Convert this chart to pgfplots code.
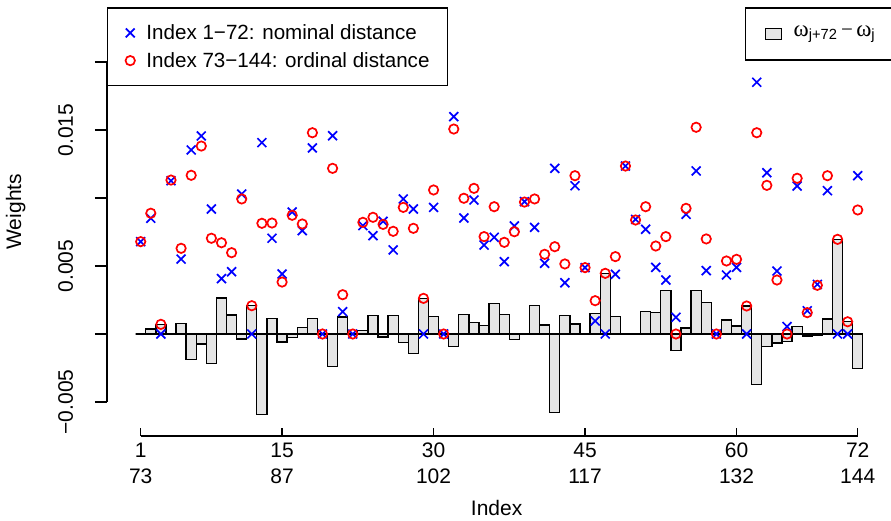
\documentclass[border=0pt]{standalone}
\usepackage{fontspec}
\setmainfont{Liberation Sans}
\newfontfamily\serifgr{Liberation Serif}
\usepackage{pgfplots}
\usepackage{pgfplotstable}
\pgfplotsset{compat=1.18}
\definecolor{barfill}{RGB}{229,229,229}

\pgfplotstableread{
i nom ord diff
1 0.00679 0.00679 0
2 0.00851 0.00888 0.00037
3 0 0.00071 0.00071
4 0.01127 0.01132 0.00005
5 0.00551 0.00630 0.00079
6 0.01353 0.01167 -0.00186
7 0.01456 0.01382 -0.00074
8 0.00919 0.00704 -0.00215
9 0.00407 0.00671 0.00264
10 0.00458 0.00598 0.00140
11 0.01029 0.00993 -0.00036
12 0 0.00208 0.00208
13 0.01407 0.00814 -0.00593
14 0.00704 0.00816 0.00112
15 0.00441 0.00382 -0.00059
16 0.00897 0.00873 -0.00024
17 0.00760 0.00809 0.00049
18 0.01368 0.01480 0.00112
19 0 0 0
20 0.01458 0.01218 -0.00240
21 0.00164 0.00289 0.00125
22 0 0 0
23 0.00797 0.00821 0.00024
24 0.00723 0.00858 0.00135
25 0.00829 0.00806 -0.00023
26 0.00618 0.00755 0.00137
27 0.00993 0.00931 -0.00062
28 0.00919 0.00777 -0.00142
29 0 0.00262 0.00262
30 0.00931 0.01059 0.00128
31 0 0 0
32 0.01598 0.01507 -0.00091
33 0.00853 0.00998 0.00145
34 0.00985 0.01071 0.00086
35 0.00654 0.00716 0.00062
36 0.00711 0.00936 0.00225
37 0.00532 0.00674 0.00142
38 0.00794 0.00752 -0.00042
39 0.00973 0.00970 -0.00003
40 0.00784 0.00993 0.00209
41 0.00520 0.00586 0.00066
42 0.01218 0.00642 -0.00576
43 0.00377 0.00515 0.00138
44 0.01090 0.01164 0.00074
45 0.00488 0.00488 0
46 0.00096 0.00245 0.00149
47 0 0.00446 0.00446
48 0.00439 0.00569 0.00130
49 0.01235 0.01235 0
50 0.00843 0.00838 -0.00005
51 0.00770 0.00936 0.00166
52 0.00490 0.00647 0.00157
53 0.00397 0.00716 0.00319
54 0.00123 0 -0.00123
55 0.00880 0.00924 0.00044
56 0.01199 0.01520 0.00321
57 0.00466 0.00699 0.00233
58 0 0 0
59 0.00434 0.00537 0.00103
60 0.00490 0.00549 0.00059
61 0 0.00206 0.00206
62 0.01851 0.01480 -0.00371
63 0.01186 0.01093 -0.00093
64 0.00463 0.00397 -0.00066
65 0.00055 0 -0.00055
66 0.01088 0.01145 0.00057
67 0.00171 0.00157 -0.00014
68 0.00365 0.00358 -0.00007
69 0.01054 0.01164 0.00110
70 0 0.00696 0.00696
71 0 0.00090 0.00090
72 0.01164 0.00912 -0.00252
}\weights

\pgfplotsset{
  geom/.style={
    at={(107pt,84pt)}, anchor=south west,
    scale only axis, width=784pt, height=436pt,
    xmin=-2.337, xmax=75.294, ymin=-0.0075, ymax=0.024559,
    axis x line*=bottom, axis y line*=left,
    axis line style={draw=none},
    scaled x ticks=false, scaled y ticks=false,
    clip=false,
    tick style={line width=1.3pt, black},
  },
  boxlegend/.style={legend image code/.code={\draw[##1] (0pt,-5.3pt) rectangle (16pt,5.3pt);}},
}

\begin{document}
\begin{tikzpicture}[font=\fontsize{21}{26}\selectfont]
\begin{axis}[
  geom,
  xtick={1,15,30,45,60,72},
  xticklabels={{1\\73},{15\\87},{30\\102},{45\\117},{60\\132},{72\\144}},
  xticklabel style={align=center, anchor=north, inner sep=0pt, yshift=-6.7pt},
  ytick=\empty,
  tick align=inside, major tick length=8pt,
  xlabel={Index},
  xlabel style={at={(axis description cs:0.497,-0.1812)}, anchor=base, inner sep=0pt},
  legend cell align=left,
  legend style={at={(rel axis cs:0,0.9833)}, anchor=north west,
    draw=black, line width=1.3pt, fill=white,
    font=\fontsize{20.6}{26}\selectfont,
    inner xsep=17.9pt, inner ysep=15pt, row sep=7.7pt, column sep=11.5pt,
    nodes={inner sep=0pt, text height=17pt, text depth=3pt}},
]
\addplot[ybar, bar width=1, bar shift=0pt, fill=barfill, draw=black, line width=1.3pt, forget plot]
  table[x=i, y=diff]{\weights};
\addplot[only marks, mark=x, mark size=6.3pt, blue, line width=1.7pt]
  table[x=i, y=nom]{\weights};
\addplot[only marks, mark=o, mark size=4.7pt, red, line width=1.7pt]
  table[x=i, y=ord]{\weights};
\legend{Index 1−72: nominal distance\hspace{2pt}, Index 73−144: ordinal distance\hspace{2pt}}
\end{axis}
\begin{axis}[
  geom,
  xtick=\empty,
  ytick={-0.005,0,0.005,0.01,0.015,0.02},
  yticklabels={{−0.005},{},{0.005},{},{0.015},{}},
  tick align=outside, major tick length=12pt,
  yticklabel style={rotate=90, anchor=base, inner sep=0pt, yshift=22pt},
  ylabel={Weights},
  ylabel style={at={(axis description cs:-0.1163,0.5144)}, anchor=center, inner sep=0pt},
  legend style={at={(rel axis cs:0.8138,0.9833)}, anchor=north west,
    draw=black, line width=1.3pt, fill=white,
    inner xsep=19pt, inner ysep=16.5pt, column sep=11.7pt,
    nodes={inner sep=0pt, text height=12pt, text depth=7pt}},
]
\addlegendimage{boxlegend, fill=barfill, draw=black, line width=1.3pt}
\addlegendentry{{\serifgr\fontsize{23}{26}\selectfont ω}\textsubscript{j+72}\,{\serifgr −}\,{\serifgr\fontsize{23}{26}\selectfont ω}\textsubscript{j}}
\draw[line width=1.3pt] (axis cs:-2.337,-0.005) -- (axis cs:-2.337,0.02);
\draw[line width=1.3pt] (axis cs:1,-0.0075) -- (axis cs:72,-0.0075);
\end{axis}
\pgfresetboundingbox
\path[use as bounding box] (0pt,0pt) rectangle (891pt,520pt);
\end{tikzpicture}
\end{document}
